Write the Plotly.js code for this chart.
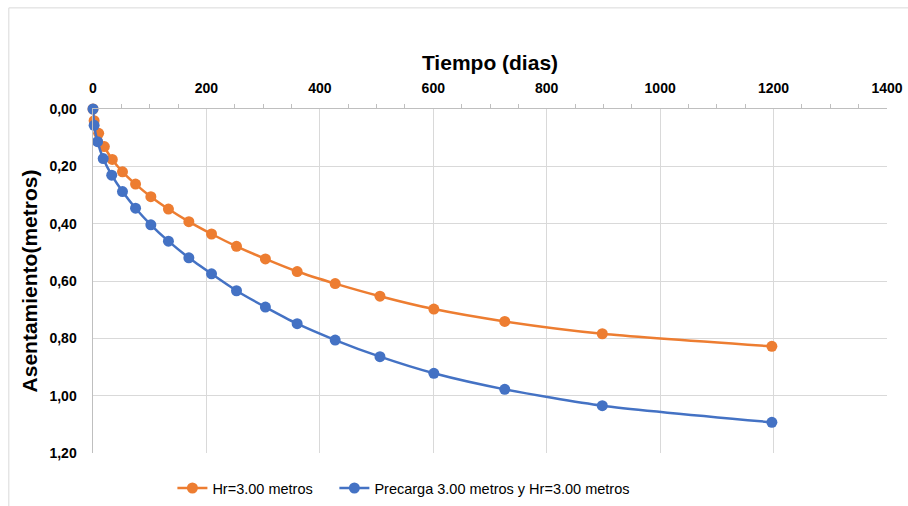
<!DOCTYPE html>
<html>
<head>
<meta charset="utf-8">
<script src="https://cdn.plot.ly/plotly-3.0.1.min.js"></script>
<style>html,body{margin:0;padding:0;background:#fff;}#chart{width:908px;height:506px;}</style>
</head>
<body>
<div id="chart"></div>
<script>
const seriesNames = ["Hr=3.00 metros", "Precarga 3.00 metros y Hr=3.00 metros"];
const daysHr = [0, 2, 10, 20, 34, 52, 75, 102, 133, 169, 209, 253, 304, 360, 427, 506, 601, 726, 898, 1197];
const settleHr = [0, 0.041, 0.085, 0.131, 0.176, 0.219, 0.262, 0.306, 0.349, 0.393, 0.436, 0.479, 0.523, 0.567, 0.609, 0.653, 0.698, 0.741, 0.784, 0.828];
const daysPre = [0, 2, 8, 18, 33, 52, 75, 102, 133, 169, 209, 253, 304, 360, 427, 506, 601, 726, 898, 1197];
const settlePre = [0, 0.057, 0.114, 0.173, 0.231, 0.288, 0.346, 0.404, 0.461, 0.519, 0.575, 0.634, 0.691, 0.749, 0.806, 0.864, 0.922, 0.978, 1.035, 1.093];
const xTitle = "Tiempo (dias)";
const yTitle = "Asentamiento(metros)";

const font = "Liberation Sans, Arial, sans-serif";
const traces = [
  {x: daysHr, y: settleHr, name: seriesNames[0], type: "scatter", mode: "lines+markers",
   legend: "legend", cliponaxis: false,
   line: {color: "#ED7D31", width: 2.5, shape: "spline", smoothing: 0.6},
   marker: {color: "#ED7D31", size: 11}},
  {x: daysPre, y: settlePre, name: seriesNames[1], type: "scatter", mode: "lines+markers",
   legend: "legend2", cliponaxis: false,
   line: {color: "#4472C4", width: 2.5, shape: "spline", smoothing: 0.6},
   marker: {color: "#4472C4", size: 11}}
];
const legendBase = {orientation: "h", xanchor: "left", y: -0.102, yanchor: "middle",
                    font: {size: 14.5, color: "#000"}, itemwidth: 30, bgcolor: "rgba(0,0,0,0)"};
const layout = {
  width: 908, height: 506,
  margin: {l: 93, r: 21, t: 109, b: 53, autoexpand: false},
  paper_bgcolor: "#fff", plot_bgcolor: "#fff",
  separators: ",.",
  showlegend: true,
  font: {family: font, color: "#000"},
  xaxis: {
    side: "top", range: [0, 1400], dtick: 200, tick0: 0,
    showgrid: true, gridcolor: "#d9d9d9", gridwidth: 1,
    showline: true, linecolor: "#bfbfbf", linewidth: 1.5,
    zeroline: false, automargin: false,
    ticks: "", ticklabelstandoff: 9,
    tickfont: {size: 14, weight: "bold", color: "#000"},
    minor: {dtick: 50, ticks: "outside", ticklen: 4, tickcolor: "#bfbfbf", showgrid: false},
    title: {text: xTitle, font: {size: 21, weight: "bold", color: "#000"}, standoff: 3},
    fixedrange: true
  },
  yaxis: {
    range: [1.2, 0], dtick: 0.2, tick0: 0, tickformat: ".2f",
    showgrid: true, gridcolor: "#d9d9d9", gridwidth: 1,
    showline: true, linecolor: "#bfbfbf", linewidth: 1.5,
    zeroline: false, automargin: false,
    ticks: "", ticklabelstandoff: 12,
    tickfont: {size: 14, weight: "bold", color: "#000"},
    title: {text: yTitle, font: {size: 21, weight: "bold", color: "#000"}, standoff: 6},
    fixedrange: true
  },
  legend: Object.assign({}, legendBase, {x: 0.1}),
  legend2: Object.assign({}, legendBase, {x: 0.304}),
  shapes: [
    {type: "rect", xref: "paper", yref: "paper",
     x0: -0.106, x1: 1.1, y0: -0.3, y1: 1.294,
     line: {color: "#d9d9d9", width: 1}, fillcolor: "rgba(0,0,0,0)", layer: "below"}
  ]
};
Plotly.newPlot("chart", traces, layout, {displayModeBar: false, staticPlot: true});
</script>
</body>
</html>
